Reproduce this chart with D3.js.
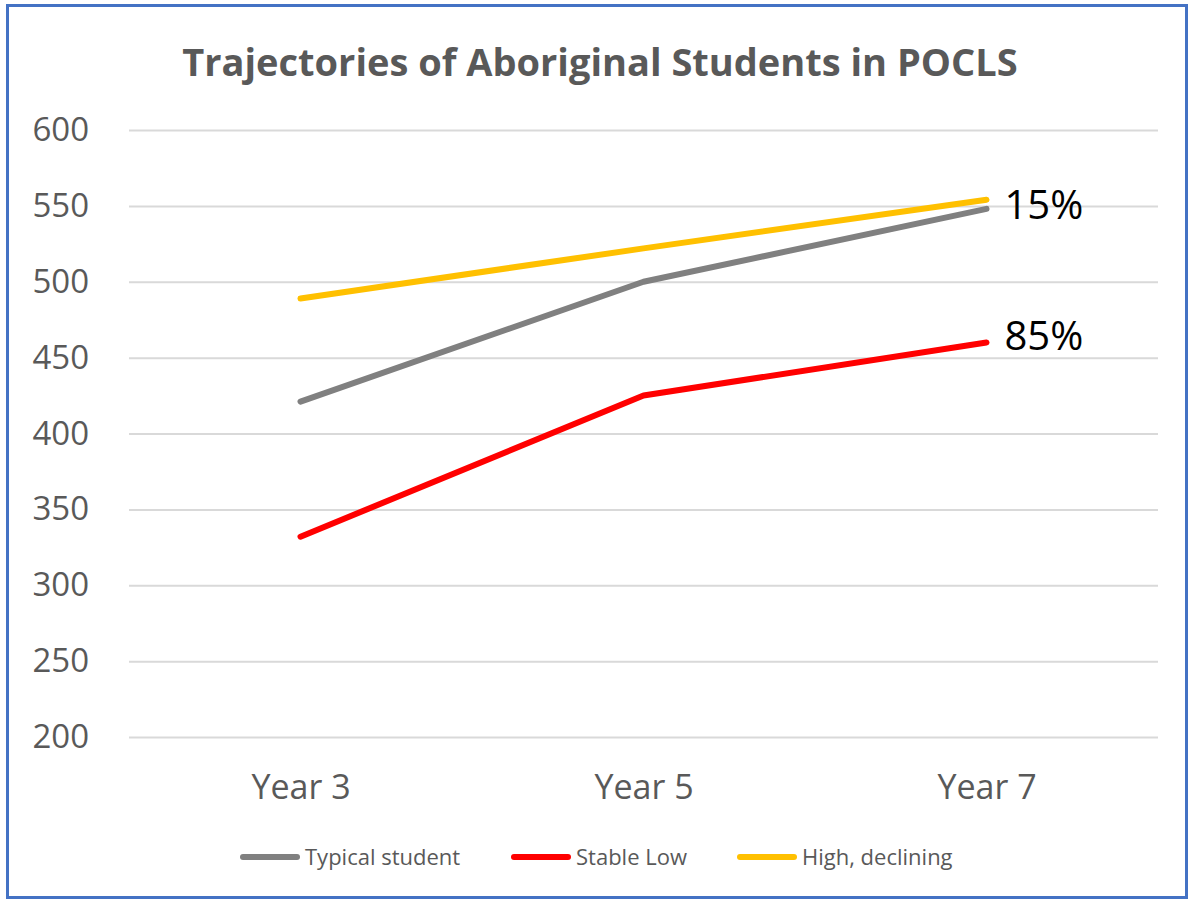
<!DOCTYPE html>
<html>
<head>
<meta charset="utf-8">
<script src="https://cdn.jsdelivr.net/npm/d3@7"></script>
<style>
  body { margin: 0; background: #fff; }
  svg { display: block; }
</style>
</head>
<body>
<script>
var categories = ["Year 3", "Year 5", "Year 7"];
var seriesNames = ["Typical student", "Stable Low", "High, declining"];
var typical = [421, 500, 548];
var stableLow = [332, 425, 460];
var highDeclining = [489, 522, 554];
var yTicks = [200, 250, 300, 350, 400, 450, 500, 550, 600];
var endLabels = ["15%", "85%"];

var colors = ["#808080", "#ff0000", "#ffc000"];
var series = [typical, stableLow, highDeclining];

var W = 1191, H = 901;
var margin = {top: 130, right: 33, bottom: 164, left: 129},
    width = W - margin.left - margin.right,
    height = H - margin.top - margin.bottom;

var svg = d3.select("body").append("svg")
    .attr("width", W)
    .attr("height", H);

// outer border
svg.append("rect")
    .attr("x", 7.5).attr("y", 5.5)
    .attr("width", W - 12).attr("height", H - 9)
    .attr("fill", "#fff")
    .attr("stroke", "#4472c4")
    .attr("stroke-width", 3);

svg.append("text")
    .attr("x", 600).attr("y", 76)
    .attr("text-anchor", "middle")
    .attr("font-family", "Open Sans")
    .attr("font-weight", "bold")
    .attr("font-size", 38)
    .attr("fill", "#595959")
    .text("Trajectories of Aboriginal Students in POCLS");

var g = svg.append("g")
    .attr("transform", "translate(" + margin.left + "," + margin.top + ")");

var x = d3.scalePoint().domain(categories).range([0, width]).padding(0.5);
var y = d3.scaleLinear().domain([200, 600]).range([height, 0]);

// gridlines
g.append("g")
    .call(d3.axisLeft(y).tickValues(yTicks).tickSize(-width).tickFormat(""))
    .call(function(s) {
      s.select(".domain").remove();
      s.selectAll("line").attr("stroke", "#d9d9d9").attr("stroke-width", 2);
    });

// y labels
g.append("g")
    .call(d3.axisLeft(y).tickValues(yTicks).tickSize(0).tickPadding(40))
    .call(function(s) {
      s.select(".domain").remove();
      s.selectAll("text")
        .attr("font-family", "Open Sans")
        .attr("font-size", 33)
        .attr("fill", "#595959");
    });

// x labels
g.append("g")
    .attr("transform", "translate(0," + height + ")")
    .call(d3.axisBottom(x).tickSize(0).tickPadding(38))
    .call(function(s) {
      s.select(".domain").remove();
      s.selectAll("text")
        .attr("font-family", "Open Sans")
        .attr("font-size", 34)
        .attr("fill", "#595959");
    });

var line = d3.line()
    .x(function(d, i) { return x(categories[i]); })
    .y(function(d) { return y(d); });

series.forEach(function(s, i) {
  g.append("path")
    .datum(s)
    .attr("d", line)
    .attr("fill", "none")
    .attr("stroke", colors[i])
    .attr("stroke-width", 6)
    .attr("stroke-linecap", "round")
    .attr("stroke-linejoin", "round");
});

// end labels
[typical, stableLow].forEach(function(s, i) {
  g.append("text")
    .attr("x", x(categories[2]) + 18)
    .attr("y", y(s[2]) + (i === 0 ? 10 : 8))
    .attr("font-family", "Open Sans")
    .attr("font-size", 40)
    .attr("fill", "#000")
    .text(endLabels[i]);
});

// legend
var legendX = [240, 511, 737];
var legend = svg.append("g").attr("transform", "translate(0,857)");
seriesNames.forEach(function(n, i) {
  legend.append("line")
    .attr("x1", legendX[i] + 3).attr("x2", legendX[i] + 57)
    .attr("stroke", colors[i])
    .attr("stroke-width", 6)
    .attr("stroke-linecap", "round");
  legend.append("text")
    .attr("x", legendX[i] + 65)
    .attr("y", 8)
    .attr("font-family", "Open Sans")
    .attr("font-size", 22)
    .attr("fill", "#595959")
    .text(n);
});
</script>
</body>
</html>
